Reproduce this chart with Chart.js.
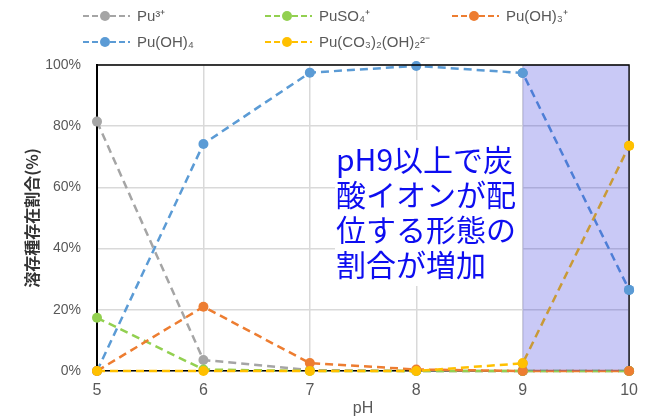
<!DOCTYPE html>
<html>
<head>
<meta charset="utf-8">
<script src="https://cdn.jsdelivr.net/npm/chart.js@4"></script>
<style>
  html, body { margin: 0; padding: 0; background: #fff; }
  #wrap { width: 648px; height: 418px; }
</style>
</head>
<body>
<div id="wrap"><canvas id="speciesChart"></canvas></div>
<script>
'use strict';

// pH on the x axis, share of each dissolved species (%) on y
const phLabels = ['5', '6', '7', '8', '9', '10'];
const yTicks = [0, 20, 40, 60, 80, 100];
const seriesNames = ['Pu³⁺', 'PuSO₄⁺', 'Pu(OH)₃⁺', 'Pu(OH)₄', 'Pu(CO₃)₂(OH)₂²⁻'];
const pu3 = [81.5, 3.6, 0.3, 0, 0, 0];
const puSO4 = [17.4, 0.5, 0, 0, 0, 0];
const puOH3 = [0, 21, 2.6, 0.5, 0, 0];
const puOH4 = [0, 74.2, 97.5, 99.7, 97.4, 26.5];
const puCO3 = [0, 0, 0, 0, 2.5, 73.6];
const noteLines = ['pH9以上で炭', '酸イオンが配', '位する形態の', '割合が増加'];
const shadeFrom = '9';

const colors = ['#a5a5a5', '#92d050', '#ed7d31', '#5b9bd5', '#ffc000'];
const drawOrder = [4, 3, 1, 2, 0]; // yellow on top, then orange

const TICK_FONT = "'Liberation Sans', Arial, sans-serif";
const JP_FONT = "'Noto Sans CJK JP', sans-serif";

// legend is drawn by hand so the two rows line up in columns
const legendCols = [83, 265, 452];
const legendRows = [16, 42];

const legendPlugin = {
    id: 'dashLegend',
    afterDraw(chart) {
        const ctx = chart.ctx;
        chart.data.datasets.forEach((ds, i) => {
            const x0 = legendCols[i % 3];
            const y = legendRows[i < 3 ? 0 : 1];
            ctx.save();
            ctx.strokeStyle = ds.borderColor;
            ctx.lineWidth = 2;
            ctx.setLineDash([6, 3]);
            ctx.beginPath();
            ctx.moveTo(x0, y);
            ctx.lineTo(x0 + 47, y);
            ctx.stroke();
            ctx.setLineDash([]);
            ctx.fillStyle = ds.borderColor;
            ctx.beginPath();
            ctx.arc(x0 + 22, y, 5, 0, Math.PI * 2);
            ctx.fill();
            ctx.fillStyle = '#595959';
            ctx.font = '15px ' + TICK_FONT;
            ctx.textBaseline = 'middle';
            ctx.fillText(ds.label, x0 + 54, y + 1);
            ctx.restore();
        });
    }
};

const overlayPlugin = {
    id: 'overlay',
    beforeDatasetsDraw(chart) {
        const ctx = chart.ctx;
        // white note box hiding the grid
        ctx.save();
        ctx.fillStyle = '#fff';
        ctx.fillRect(335, 140, 187, 146);
        ctx.fillStyle = '#0d0df0';
        ctx.font = '30px ' + JP_FONT;
        ctx.textBaseline = 'middle';
        noteLines.forEach((t, i) => ctx.fillText(t, 336, 160 + i * 35));
        ctx.restore();
    },
    afterDatasetsDraw(chart) {
        const {ctx, chartArea: a, scales} = chart;
        const xs = scales.x.getPixelForValue(phLabels.indexOf(shadeFrom));
        ctx.save();
        ctx.fillStyle = 'rgba(40, 40, 220, 0.25)';
        ctx.fillRect(xs, a.top, a.right - xs, a.bottom - a.top);
        ctx.strokeStyle = '#000';
        ctx.lineWidth = 1.3;
        ctx.beginPath();
        ctx.moveTo(a.left, a.top);
        ctx.lineTo(a.right, a.top);
        ctx.lineTo(a.right, a.bottom);
        ctx.stroke();
        ctx.restore();
        // markers stay untinted
        const metas = chart.getSortedVisibleDatasetMetas();
        for (let m = metas.length - 1; m >= 0; m--) {
            metas[m].data.forEach(pt => {
                if (pt.x >= xs - 6) pt.draw(ctx, undefined);
            });
        }
    }
};

const allSeries = [pu3, puSO4, puOH3, puOH4, puCO3];

const CHART = document.getElementById('speciesChart');

let speciesChart = new Chart(CHART, {
    type: 'line',
    data: {
        labels: phLabels,
        datasets: allSeries.map((vals, i) => ({
            label: seriesNames[i],
            data: vals,
            borderColor: colors[i],
            backgroundColor: colors[i],
            pointBackgroundColor: colors[i],
            pointBorderWidth: 0,
            pointRadius: 5,
            borderWidth: 2.5,
            borderDash: [8, 5],
            tension: 0,
            fill: false,
            clip: false,
            order: drawOrder[i]
        }))
    },
    options: {
        responsive: true,
        maintainAspectRatio: false,
        animation: false,
        layout: { padding: { top: 65, right: 15, bottom: 0, left: 0 } },
        plugins: {
            legend: { display: false },
            tooltip: { enabled: false }
        },
        scales: {
            x: {
                offset: false,
                afterFit: s => { s.height = 47; },
                grid: { color: '#d9d9d9', lineWidth: 1.5, drawTicks: false },
                border: { color: '#000', width: 1.5 },
                ticks: { color: '#595959', padding: 10, font: { family: TICK_FONT, size: 16 } },
                title: {
                    display: true,
                    text: 'pH',
                    color: '#595959',
                    padding: { top: 0, bottom: 0 },
                    font: { family: TICK_FONT, size: 16 }
                }
            },
            y: {
                min: 0,
                max: 100,
                afterFit: s => { s.width = 97; },
                afterBuildTicks: s => { s.ticks = yTicks.map(v => ({ value: v })); },
                grid: { color: '#d9d9d9', lineWidth: 1.5, drawTicks: false },
                border: { color: '#000', width: 2 },
                ticks: {
                    color: '#595959',
                    padding: 16,
                    font: { family: TICK_FONT, size: 14 },
                    callback: v => v + '%'
                },
                title: {
                    display: true,
                    text: '溶存種存在割合(%)',
                    color: '#333',
                    padding: { top: 22, bottom: 0 },
                    font: { family: JP_FONT, size: 16, weight: 'bold' }
                }
            }
        }
    },
    plugins: [overlayPlugin, legendPlugin]
});
</script>
</body>
</html>
